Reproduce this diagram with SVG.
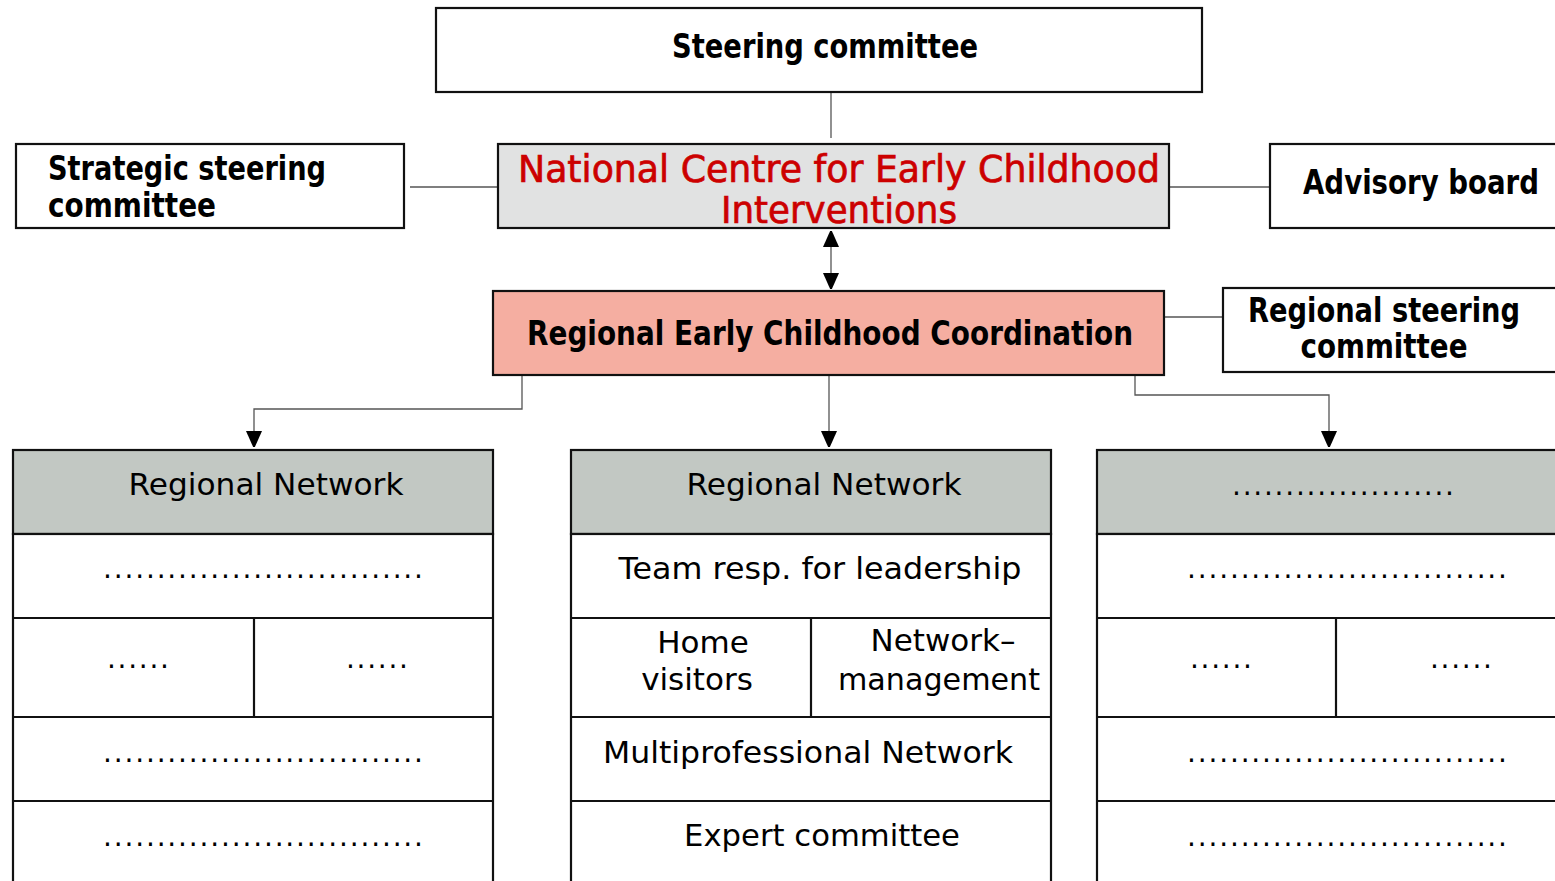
<svg xmlns="http://www.w3.org/2000/svg" width="1555" height="881" viewBox="0 0 1555 881">
<defs>
<marker id="ah" viewBox="0 0 16 18" refX="16" refY="8" markerWidth="16" markerHeight="18" markerUnits="userSpaceOnUse" orient="auto-start-reverse">
<path d="M0,0 L18,8 L0,16 Z" fill="#000"/>
</marker>
<style>
.box{fill:#fff;stroke:#111;stroke-width:2.2}
.grey{fill:#e1e2e2}
.coord{fill:#f5aea1}
.head{fill:#c2c8c3}
.ln{fill:none;stroke:#111;stroke-width:2.2}
.con{fill:none;stroke:#555;stroke-width:1.3}
.b{font-family:"DejaVu Sans",sans-serif;font-weight:bold;font-size:33px;fill:#000}
.r{font-family:"DejaVu Sans",sans-serif;font-size:31px;fill:#000}
.red{font-family:"DejaVu Sans",sans-serif;font-size:37px;fill:#cc0000;stroke:#cc0000;stroke-width:0.7}
.d{font-family:"DejaVu Sans",sans-serif;font-size:28px;fill:#000}
</style>
</defs>
<rect width="1555" height="881" fill="#fff"/>

<g id="connectors">
<line class="con" x1="831" y1="92" x2="831" y2="138"/>
<line class="con" x1="410" y1="187" x2="498" y2="187"/>
<line class="con" x1="1169" y1="187" x2="1270" y2="187"/>
<line class="con" x1="831" y1="231" x2="831" y2="289" marker-start="url(#ah)" marker-end="url(#ah)"/>
<line class="con" x1="1164" y1="317" x2="1223" y2="317"/>
<polyline class="con" points="522,375 522,409 254,409 254,447" marker-end="url(#ah)"/>
<line class="con" x1="829" y1="375" x2="829" y2="447" marker-end="url(#ah)"/>
<polyline class="con" points="1135,375 1135,395 1329,395 1329,447" marker-end="url(#ah)"/>
</g>

<g id="steering">
<rect class="box" x="436" y="8" width="766" height="84"/>
<text class="b" x="825" y="58" text-anchor="middle" textLength="306" lengthAdjust="spacingAndGlyphs">Steering committee</text>
</g>

<g id="strategic">
<rect class="box" x="16" y="144" width="388" height="84"/>
<text class="b" x="48" y="180" textLength="278" lengthAdjust="spacingAndGlyphs">Strategic steering</text>
<text class="b" x="48" y="217" textLength="168" lengthAdjust="spacingAndGlyphs">committee</text>
</g>

<g id="national">
<rect class="box grey" x="498" y="144" width="671" height="84"/>
<text class="red" x="839" y="182" text-anchor="middle" textLength="642" lengthAdjust="spacingAndGlyphs">National Centre for Early Childhood</text>
<text class="red" x="839" y="223" text-anchor="middle" textLength="236" lengthAdjust="spacingAndGlyphs">Interventions</text>
</g>

<g id="advisory">
<rect class="box" x="1270" y="144" width="300" height="84"/>
<text class="b" x="1303" y="194" textLength="236" lengthAdjust="spacingAndGlyphs">Advisory board</text>
</g>

<g id="coordination">
<rect class="box coord" x="493" y="291" width="671" height="84"/>
<text class="b" x="830" y="345" text-anchor="middle" textLength="606" lengthAdjust="spacingAndGlyphs">Regional Early Childhood Coordination</text>
</g>

<g id="regional-steering">
<rect class="box" x="1223" y="288" width="350" height="84"/>
<text class="b" x="1384" y="322" text-anchor="middle" textLength="272" lengthAdjust="spacingAndGlyphs">Regional steering</text>
<text class="b" x="1384" y="358" text-anchor="middle" textLength="167" lengthAdjust="spacingAndGlyphs">committee</text>
</g>

<g id="network-left">
<rect class="box head" x="13" y="450" width="480" height="84"/>
<rect class="box" x="13" y="534" width="480" height="360"/>
<line class="ln" x1="13" y1="618" x2="493" y2="618"/>
<line class="ln" x1="13" y1="717" x2="493" y2="717"/>
<line class="ln" x1="13" y1="801" x2="493" y2="801"/>
<line class="ln" x1="254" y1="618" x2="254" y2="717"/>
<text class="r" x="266" y="495" text-anchor="middle" textLength="275" lengthAdjust="spacingAndGlyphs">Regional Network</text>
<text class="d" x="103" y="578" textLength="320" lengthAdjust="spacing">..............................</text>
<text class="d" x="107" y="668" textLength="62" lengthAdjust="spacing">......</text>
<text class="d" x="346" y="668" textLength="62" lengthAdjust="spacing">......</text>
<text class="d" x="103" y="762" textLength="320" lengthAdjust="spacing">..............................</text>
<text class="d" x="103" y="846" textLength="320" lengthAdjust="spacing">..............................</text>
</g>

<g id="network-middle">
<rect class="box head" x="571" y="450" width="480" height="84"/>
<rect class="box" x="571" y="534" width="480" height="360"/>
<line class="ln" x1="571" y1="618" x2="1051" y2="618"/>
<line class="ln" x1="571" y1="717" x2="1051" y2="717"/>
<line class="ln" x1="571" y1="801" x2="1051" y2="801"/>
<line class="ln" x1="811" y1="618" x2="811" y2="717"/>
<text class="r" x="824" y="495" text-anchor="middle" textLength="275" lengthAdjust="spacingAndGlyphs">Regional Network</text>
<text class="r" x="820" y="579" text-anchor="middle" textLength="403" lengthAdjust="spacingAndGlyphs">Team resp. for leadership</text>
<text class="r" x="703" y="653" text-anchor="middle">Home</text>
<text class="r" x="697" y="690" text-anchor="middle">visitors</text>
<text class="r" x="943" y="651" text-anchor="middle">Network–</text>
<text class="r" x="939" y="690" text-anchor="middle" textLength="202" lengthAdjust="spacingAndGlyphs">management</text>
<text class="r" x="808" y="763" text-anchor="middle" textLength="410" lengthAdjust="spacingAndGlyphs">Multiprofessional Network</text>
<text class="r" x="822" y="846" text-anchor="middle" textLength="276" lengthAdjust="spacingAndGlyphs">Expert committee</text>
</g>

<g id="network-right">
<rect class="box head" x="1097" y="450" width="480" height="84"/>
<rect class="box" x="1097" y="534" width="480" height="360"/>
<line class="ln" x1="1097" y1="618" x2="1577" y2="618"/>
<line class="ln" x1="1097" y1="717" x2="1577" y2="717"/>
<line class="ln" x1="1097" y1="801" x2="1577" y2="801"/>
<line class="ln" x1="1336" y1="618" x2="1336" y2="717"/>
<text class="d" x="1232" y="495" textLength="222" lengthAdjust="spacing">.....................</text>
<text class="d" x="1187" y="578" textLength="320" lengthAdjust="spacing">..............................</text>
<text class="d" x="1190" y="668" textLength="62" lengthAdjust="spacing">......</text>
<text class="d" x="1430" y="668" textLength="62" lengthAdjust="spacing">......</text>
<text class="d" x="1187" y="762" textLength="320" lengthAdjust="spacing">..............................</text>
<text class="d" x="1187" y="846" textLength="320" lengthAdjust="spacing">..............................</text>
</g>
</svg>
